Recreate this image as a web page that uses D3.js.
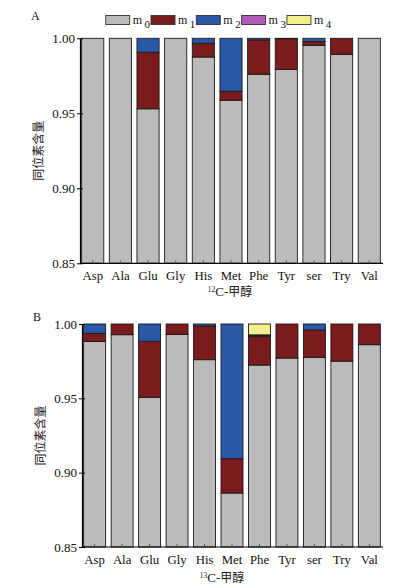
<!DOCTYPE html>
<html><head><meta charset="utf-8">
<script src="https://cdn.jsdelivr.net/npm/d3@7/dist/d3.min.js"></script>
<style>body{margin:0;background:#fff}svg{display:block}</style>
</head><body>
<svg id="c" width="393" height="588"></svg>
<script>
const categories = ["Asp","Ala","Glu","Gly","His","Met","Phe","Tyr","ser","Try","Val"];
const seriesNames = ["m0","m1","m2","m3","m4"];
const seriesColors = ["#bbbbbb","#7b1b1d","#2a58a6","#b05cb6","#f3f08c"];
const yTicks = [0.85, 0.90, 0.95, 1.00];

// Panel A (12C-methanol)
const m0A = [1.000,1.000,0.953,1.000,0.9875,0.9587,0.976,0.9793,0.9953,0.9893,1.000];
const m1A = [0,0,0.0377,0,0.0092,0.0060,0.0229,0.0204,0.0025,0.0107,0];
const m2A = [0,0,0.0093,0,0.0033,0.0353,0.0011,0.0003,0.0022,0,0];
const m3A = [0,0,0,0,0,0,0,0,0,0,0];
const m4A = [0,0,0,0,0,0,0,0,0,0,0];

// Panel B (13C-methanol)
const m0B = [0.9882,0.9928,0.9507,0.9930,0.9760,0.8863,0.9724,0.9771,0.9776,0.9750,0.9861];
const m1B = [0.0055,0.0072,0.0377,0.0070,0.0227,0.0231,0.0191,0.0229,0.0184,0.0250,0.0139];
const m2B = [0.0063,0,0.0116,0,0.0013,0.0906,0.0008,0,0.0040,0,0];
const m3B = [0,0,0,0,0,0,0.0004,0,0,0,0];
const m4B = [0,0,0,0,0,0,0.0073,0,0,0,0];

const svg = d3.select("#c");
const serif = "'Liberation Serif','DejaVu Serif',serif";
const cjk = "'Noto Sans CJK SC',sans-serif";

function panel(opts){
  const {series, x0, x1, yTop, yBot, label, labelPos, titleY, titleX, sup} = opts;
  const rows = categories.map((c,i)=>{
    const o = {cat:c};
    seriesNames.forEach((s,k)=> o[s] = series[k][i]);
    return o;
  });
  const stacked = d3.stack().keys(seriesNames)(rows);
  const x = d3.scaleBand().domain(categories).range([x0, x1]).paddingInner(0.2).paddingOuter(0.06);
  const y = d3.scaleLinear().domain([0.85, 1.0]).range([yBot, yTop]).clamp(true);
  const g = svg.append("g");
  stacked.forEach((layer,k)=>{
    g.selectAll(null).data(layer.filter(d=> d[1]-d[0] > 0)).enter().append("rect")
      .attr("x", d=> x(d.data.cat))
      .attr("width", x.bandwidth())
      .attr("y", d=> y(d[1]))
      .attr("height", d=> Math.max(0, y(d[0]) - y(d[1])))
      .attr("fill", seriesColors[k])
      .attr("stroke", "#1a1a1a")
      .attr("stroke-width", 0.9);
  });
  // y axis
  const ya = g.append("g").attr("transform", `translate(${x0},0)`)
    .call(d3.axisLeft(y).tickValues(yTicks).tickFormat(d3.format(".2f")).tickSizeInner(3).tickSizeOuter(0));
  ya.select(".domain").attr("stroke","#000").attr("stroke-width",1.2);
  ya.selectAll(".tick line").attr("x2", 3).attr("x1",-3).attr("stroke","#000");
  ya.selectAll("text").attr("font-family", serif).attr("font-size", 13).attr("fill","#111").attr("x",-5);
  // x axis
  const xa = g.append("g").attr("transform", `translate(0,${yBot})`)
    .call(d3.axisBottom(x).tickSizeInner(-3).tickSizeOuter(0));
  xa.select(".domain").attr("stroke","#000").attr("stroke-width",1.2).attr("d", `M${x0},0H${x1+1}`);
  xa.selectAll(".tick line").attr("stroke","#555");
  xa.selectAll("text").attr("font-family", serif).attr("font-size", 12.8).attr("fill","#111").attr("y", 8);
  // y title
  svg.append("text").attr("transform", `translate(${x0-37},${(yTop+yBot)/2}) rotate(-90)`)
    .attr("text-anchor","middle").attr("font-family", cjk).attr("font-size", 12).attr("fill","#222")
    .text("同位素含量");
  // x title
  const t = svg.append("text").attr("x", titleX).attr("y", titleY).attr("text-anchor","middle")
    .attr("font-family", serif).attr("font-size", 13).attr("fill","#222");
  t.append("tspan").attr("font-size", 7.5).attr("dy", -4).text(sup);
  t.append("tspan").attr("dy", 4).text("C-");
  t.append("tspan").attr("font-family", cjk).attr("font-size", 12).text("甲醇");
  // panel label
  svg.append("text").attr("x", labelPos[0]).attr("y", labelPos[1]).attr("font-family", serif)
    .attr("font-size", 12).attr("fill","#111").text(label);
}

panel({series:[m0A,m1A,m2A,m3A,m4A], x0:80, x1:382, yTop:38.3, yBot:263.3, label:"A", labelPos:[31,20], titleY:296, titleX:230, sup:"12"});
panel({series:[m0B,m1B,m2B,m3B,m4B], x0:82, x1:382, yTop:324, yBot:547, label:"B", labelPos:[33,321], titleY:582, titleX:222, sup:"13"});

// legend
const leg = svg.append("g");
seriesNames.forEach((s,k)=>{
  const lx = 105.7 + k*45.3;
  leg.append("rect").attr("x", lx).attr("y", 15.5).attr("width", 24).attr("height", 9)
    .attr("fill", seriesColors[k]).attr("stroke","#333").attr("stroke-width",0.9);
  const tx = leg.append("text").attr("x", lx+27).attr("y", 24).attr("font-family", serif)
    .attr("font-size", 12).attr("fill","#111");
  tx.append("tspan").text("m");
  tx.append("tspan").attr("dx", 2.5).attr("dy", 4).attr("font-size", 11).text(s.slice(1));
});
</script>
</body></html>
